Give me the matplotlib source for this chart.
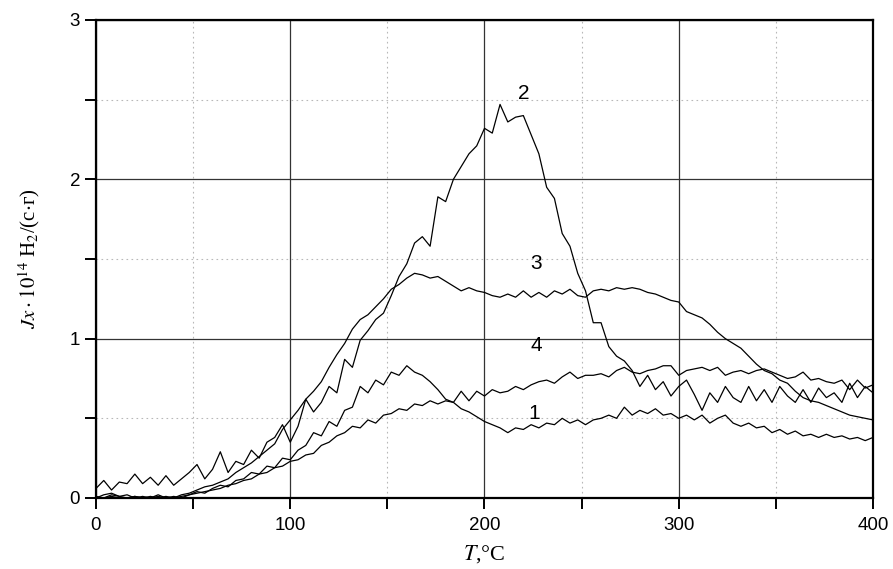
import numpy as np
import matplotlib
matplotlib.use("Agg")
import matplotlib.pyplot as plt
from matplotlib.ticker import MultipleLocator

plt.rcParams['font.family'] = ['Liberation Sans', 'DejaVu Sans']
plt.rcParams['mathtext.fontset'] = 'stix'

# temperature grid, step 4 C
T = np.arange(0, 401, 4)

curve1 = [0.00, 0.02, 0.03, 0.01, 0.02, 0.00, 0.01, 0.00, 0.02, 0.00,
          0.01, 0.00, 0.02, 0.04, 0.03, 0.06, 0.08, 0.07, 0.11, 0.12,
          0.16, 0.15, 0.20, 0.19, 0.25, 0.24, 0.30, 0.33, 0.41, 0.39,
          0.48, 0.45, 0.55, 0.57, 0.70, 0.66, 0.74, 0.71, 0.79, 0.77,
          0.83, 0.79, 0.77, 0.73, 0.68, 0.62, 0.60, 0.56, 0.54, 0.51,
          0.48, 0.46, 0.44, 0.41, 0.44, 0.43, 0.46, 0.44, 0.47, 0.46,
          0.50, 0.47, 0.49, 0.46, 0.49, 0.50, 0.52, 0.50, 0.57, 0.52,
          0.55, 0.53, 0.56, 0.52, 0.53, 0.50, 0.52, 0.49, 0.52, 0.47,
          0.50, 0.52, 0.47, 0.45, 0.47, 0.44, 0.45, 0.41, 0.43, 0.40,
          0.42, 0.39, 0.40, 0.38, 0.40, 0.38, 0.39, 0.37, 0.38, 0.36,
          0.38]

curve2 = [0.06, 0.11, 0.05, 0.10, 0.09, 0.15, 0.09, 0.13, 0.08, 0.14,
          0.08, 0.12, 0.16, 0.21, 0.12, 0.18, 0.29, 0.16, 0.23, 0.21,
          0.30, 0.25, 0.35, 0.38, 0.46, 0.35, 0.45, 0.62, 0.54, 0.60,
          0.70, 0.66, 0.87, 0.82, 0.99, 1.05, 1.12, 1.16, 1.27, 1.39,
          1.47, 1.60, 1.64, 1.58, 1.89, 1.86, 2.00, 2.08, 2.16, 2.21,
          2.32, 2.29, 2.47, 2.36, 2.39, 2.40, 2.28, 2.16, 1.95, 1.88,
          1.66, 1.58, 1.41, 1.30, 1.10, 1.10, 0.95, 0.89, 0.86, 0.80,
          0.70, 0.77, 0.68, 0.73, 0.64, 0.70, 0.74, 0.65, 0.55, 0.66,
          0.60, 0.70, 0.63, 0.60, 0.70, 0.61, 0.68, 0.60, 0.70, 0.64,
          0.60, 0.68, 0.60, 0.69, 0.63, 0.66, 0.60, 0.72, 0.63, 0.70,
          0.66]

curve3 = [0.01, 0.00, 0.02, 0.01, 0.00, 0.01, 0.00, 0.01, 0.00, 0.01,
          0.00, 0.02, 0.03, 0.05, 0.07, 0.08, 0.10, 0.12, 0.16, 0.19,
          0.22, 0.26, 0.30, 0.34, 0.43, 0.49, 0.55, 0.62, 0.67, 0.73,
          0.82, 0.90, 0.97, 1.06, 1.12, 1.15, 1.20, 1.25, 1.31, 1.34,
          1.38, 1.41, 1.40, 1.38, 1.39, 1.36, 1.33, 1.30, 1.32, 1.30,
          1.29, 1.27, 1.26, 1.28, 1.26, 1.30, 1.26, 1.29, 1.26, 1.30,
          1.28, 1.31, 1.27, 1.26, 1.30, 1.31, 1.30, 1.32, 1.31, 1.32,
          1.31, 1.29, 1.28, 1.26, 1.24, 1.23, 1.17, 1.15, 1.13, 1.09,
          1.04, 1.00, 0.97, 0.94, 0.89, 0.84, 0.80, 0.78, 0.74, 0.72,
          0.67, 0.63, 0.61, 0.60, 0.58, 0.56, 0.54, 0.52, 0.51, 0.50,
          0.49]

curve4 = [0.00, 0.00, 0.01, 0.00, 0.00, 0.01, 0.00, 0.00, 0.01, 0.00,
          0.00, 0.01, 0.02, 0.03, 0.04, 0.05, 0.06, 0.08, 0.09, 0.11,
          0.12, 0.15, 0.16, 0.19, 0.20, 0.23, 0.24, 0.27, 0.28, 0.33,
          0.35, 0.39, 0.41, 0.45, 0.44, 0.49, 0.47, 0.52, 0.53, 0.56,
          0.55, 0.59, 0.58, 0.61, 0.59, 0.61, 0.60, 0.67, 0.61, 0.67,
          0.64, 0.68, 0.66, 0.67, 0.70, 0.68, 0.71, 0.73, 0.74, 0.72,
          0.76, 0.79, 0.75, 0.77, 0.77, 0.78, 0.76, 0.80, 0.82, 0.79,
          0.78, 0.80, 0.81, 0.83, 0.83, 0.77, 0.80, 0.81, 0.82, 0.80,
          0.82, 0.77, 0.79, 0.80, 0.78, 0.80, 0.81, 0.79, 0.77, 0.75,
          0.76, 0.79, 0.74, 0.75, 0.73, 0.72, 0.74, 0.68, 0.74, 0.69,
          0.71]

labels = ["1", "2", "3", "4"]
label_pos = [(225.5, 0.53), (220, 2.54), (226.5, 1.47), (226.5, 0.96)]

fig = plt.figure(figsize=(8.93, 5.69), dpi=100)
ax = fig.add_axes([0.1075, 0.1248, 0.8701, 0.8401])

for y in [curve1, curve2, curve3, curve4]:
    ax.plot(T, y, color='black', lw=0.9)

for lab, (x, y) in zip(labels, label_pos):
    ax.text(x, y, lab, fontsize=15, ha='center', va='center')

ax.set_xlim(0, 400)
ax.set_ylim(0, 3)
ax.xaxis.set_major_locator(MultipleLocator(100))
ax.xaxis.set_minor_locator(MultipleLocator(50))
ax.yaxis.set_major_locator(MultipleLocator(1))
ax.yaxis.set_minor_locator(MultipleLocator(0.5))

ax.grid(which='major', color='#333333', lw=0.9, ls='-')
ax.grid(which='minor', color='#b8b8b8', lw=0.8, ls=(0, (1.5, 3)))
ax.set_axisbelow(True)

for s in ax.spines.values():
    s.set_linewidth(1.6)

ax.tick_params(which='both', direction='out', length=8, width=1.4,
               labelsize=13.5, top=False, right=False)
ax.tick_params(axis='x', pad=6)

ax.set_xlabel(r'$T$,°C', fontsize=16, family=['Liberation Serif'], labelpad=6)
ax.set_ylabel(r'$Jx \cdot 10^{14}$ Н$_2$/(с$\cdot$г)', fontsize=15,
              family=['Liberation Serif'], labelpad=20)

fig.savefig('out.png', dpi=100)
